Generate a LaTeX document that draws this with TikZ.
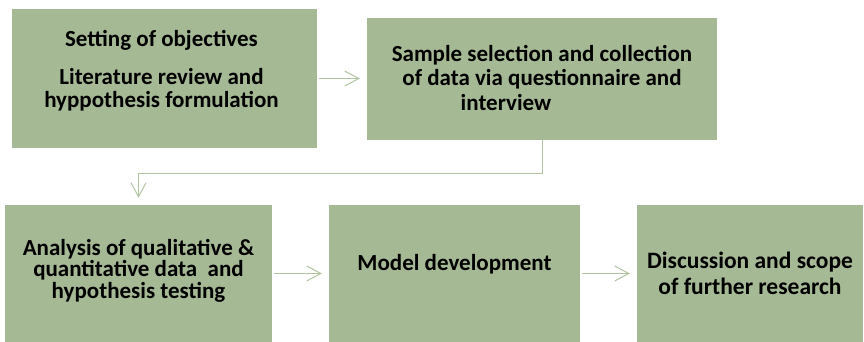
\documentclass[tikz,border=0pt]{standalone}
\usepackage{fontspec}
\setmainfont{Carlito}
\usepackage{xcolor}
\usepackage{tikz}
\usetikzlibrary{positioning, arrows.meta, calc}
\definecolor{sage}{RGB}{166,185,149}
\definecolor{sagelight}{RGB}{176,196,160}

\begin{document}
\begin{tikzpicture}[x=1pt, y=-1pt,
    stage/.style={fill=sage, inner sep=0pt},
    lbl/.style={align=center, inner sep=0pt, text=black,
                font=\fontsize{23}{#1}\selectfont\bfseries},
    lbl/.default=24,
    flow/.style={draw=sagelight, line width=1pt, shorten <=2pt, shorten >=7pt,
                 -{Straight Barb[length=14pt, width=15pt]}}
  ]
  \useasboundingbox (0,0) rectangle (864,342);

  % top row
  \node[stage, minimum width=305pt, minimum height=139pt] (obj) at (164.5,78.5) {};
  \node[stage, minimum width=350pt, minimum height=122pt] (sel) at (542,79) {};
  % bottom row
  \node[stage, minimum width=267pt, minimum height=137pt] (ana) at (138.5,273.5) {};
  \node[stage, minimum width=251pt, minimum height=137pt] (mod) at (454.5,273.5) {};
  \node[stage, minimum width=226pt, minimum height=137pt] (dis) at (750,273.5) {};

  \node[lbl=22.5, xshift=-3pt, yshift=8pt] (objtxt) at (obj)
       {Setting of objectives\\[16pt]Literature review and\\hyppothesis formulation};
  \node[lbl=24.5, yshift=1.5pt] (seltxt) at (sel)
       {Sample selection and collection\\of data via questionnaire and\\interview\hspace*{72pt}};
  \node[lbl=21.5, yshift=3pt] (anatxt) at (ana)
       {Analysis of qualitative \&\\quantitative data\ \ and\\hypothesis testing};
  \node[lbl, yshift=9pt] (modtxt) at (mod) {Model development};
  \node[lbl, font=\fontsize{23.5}{26}\selectfont\bfseries] (distxt) at (dis)
       {Discussion and scope\\of further research};

  % connectors
  \draw[flow] (obj.east) -- (sel.west |- obj.east);
  \draw[flow, shorten <=0pt] (sel.south) -- ++(0,33) -| (ana.north);
  \draw[flow] (ana.east) -- (mod.west);
  \draw[flow] (mod.east) -- (dis.west);
\end{tikzpicture}
\end{document}
